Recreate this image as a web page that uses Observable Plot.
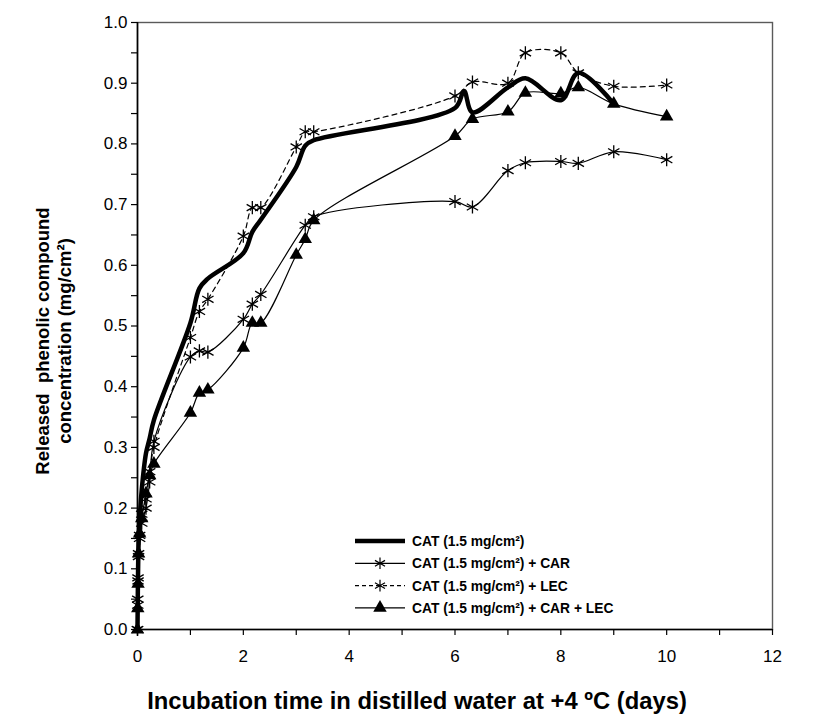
<!DOCTYPE html>
<html>
<head>
<meta charset="utf-8">
<script src="https://cdn.jsdelivr.net/npm/d3@7"></script>
<script src="https://cdn.jsdelivr.net/npm/@observablehq/plot@0.6"></script>
<style>
  html, body { margin: 0; padding: 0; background: #fff; }
  #wrap { position: relative; width: 831px; height: 726px; }
  #legend { position: absolute; left: 0; top: 0; pointer-events: none; }
</style>
</head>
<body>
<div id="wrap"></div>
<script>
// ---- data (days, released concentration mg/cm²) ----
const timeDays = [0, 0.005, 0.01, 0.02, 0.04, 0.08, 0.16, 0.23, 0.31, 1.0, 1.17, 1.33, 2.0, 2.17, 2.33, 3.0, 3.17, 3.33, 6.0, 6.17, 6.33, 7.0, 7.33, 8.0, 8.33, 9.0, 10.0];
const catValues = [0, 0.05, 0.09, 0.14, 0.18, 0.23, 0.29, 0.315, 0.345, 0.505, 0.562, 0.578, 0.62, 0.655, 0.675, 0.762, 0.797, 0.806, 0.859, 0.887, 0.852, 0.893, 0.908, 0.872, 0.917, 0.866, null];
const catCarValues = [0, 0.05, 0.085, 0.125, 0.155, 0.175, 0.2, 0.243, 0.31, 0.449, 0.459, 0.457, 0.511, 0.536, 0.552, null, 0.666, 0.68, 0.705, null, 0.696, 0.756, 0.769, 0.771, 0.768, 0.787, 0.774];
const catLecValues = [0, 0.04, 0.08, 0.12, 0.15, 0.19, 0.215, 0.26, 0.30, 0.481, 0.524, 0.544, 0.648, 0.695, 0.695, 0.795, 0.82, 0.82, 0.879, null, 0.902, 0.900, 0.950, 0.950, 0.917, 0.895, 0.897];
const catCarLecValues = [0, 0.035, 0.075, 0.125, 0.158, 0.183, 0.224, 0.254, 0.273, 0.357, 0.39, 0.395, 0.464, 0.505, 0.505, 0.617, 0.643, 0.674, 0.813, null, 0.841, 0.853, 0.884, 0.883, 0.893, 0.866, 0.845];

const seriesNames = ["CAT (1.5 mg/cm²)", "CAT (1.5 mg/cm²) + CAR", "CAT (1.5 mg/cm²) + LEC", "CAT (1.5 mg/cm²) + CAR + LEC"];
const xTickLabels = [0, 2, 4, 6, 8, 10, 12];
const xMinorTicks = [0, 1, 2, 3, 4, 5, 6, 7, 8, 9, 10, 11, 12];
const yTickLabels = [0, 0.1, 0.2, 0.3, 0.4, 0.5, 0.6, 0.7, 0.8, 0.9, 1.0];
const yMinorTicks = [0, 0.05, 0.1, 0.15, 0.2, 0.25, 0.3, 0.35, 0.4, 0.45, 0.5, 0.55, 0.6, 0.65, 0.7, 0.75, 0.8, 0.85, 0.9, 0.95, 1.0];
const xTitle = "Incubation time in distilled water at +4 ºC (days)";
const yTitle = "Released  phenolic compound\nconcentration (mg/cm²)";

function rows(values) {
  return timeDays.map((t, i) => ({t, v: values[i]})).filter(d => d.v != null);
}
const cat = rows(catValues);
const catCar = rows(catCarValues);
const catLec = rows(catLecValues);
const catCarLec = rows(catCarLecValues);

const W = 831, H = 726;
const mL = 137, mR = 59, mT = 22, mB = 97;
const sans = "'Liberation Sans', Arial, sans-serif";

const chart = Plot.plot({
  width: W, height: H,
  marginLeft: mL, marginRight: mR, marginTop: mT, marginBottom: mB,
  x: {domain: [0, 12]},
  y: {domain: [0, 1]},
  style: {fontFamily: sans, fontSize: "17px", color: "#000", background: "#fff", overflow: "visible"},
  marks: [
    Plot.frame({stroke: "#5a5a5a", strokeWidth: 1.4}),
    Plot.ruleX([0], {stroke: "#000", strokeWidth: 1.6}),
    Plot.ruleY([0], {stroke: "#000", strokeWidth: 1.6}),
    Plot.axisX(xMinorTicks, {tickSize: 6, tickFormat: () => "", label: null, stroke: "#000", strokeWidth: 1.2}),
    Plot.axisX(xTickLabels, {tickSize: 0, tickPadding: 20, tickFormat: d => String(d), label: null, fontSize: 17}),
    Plot.axisY(yMinorTicks, {tickSize: 6, tickFormat: () => "", label: null, stroke: "#000", strokeWidth: 1.2}),
    Plot.axisY(yTickLabels, {tickSize: 0, tickPadding: 10, tickFormat: d3.format(".1f"), label: null, fontSize: 17}),
    Plot.text([xTitle], {frameAnchor: "bottom", dx: -38, dy: 72, fontSize: 23.8, fontWeight: "bold", textAnchor: "middle", lineAnchor: "middle"}),
    Plot.text([yTitle], {frameAnchor: "left", dx: -85, dy: 15, rotate: -90, fontSize: 18.5, fontWeight: "bold", textAnchor: "middle", lineAnchor: "middle", lineHeight: 1.2}),
    // series
    Plot.line(catCar, {x: "t", y: "v", curve: "catmull-rom", stroke: "#000", strokeWidth: 1.2}),
    Plot.line(catLec, {x: "t", y: "v", curve: "catmull-rom", stroke: "#000", strokeWidth: 1.2, strokeDasharray: "5,4"}),
    Plot.line(catCarLec, {x: "t", y: "v", curve: "catmull-rom", stroke: "#000", strokeWidth: 1.2}),
    Plot.dot(catCar, {x: "t", y: "v", symbol: "asterisk", r: 6.2, stroke: "#000", strokeWidth: 1.3}),
    Plot.dot(catLec, {x: "t", y: "v", symbol: "asterisk", r: 6.2, stroke: "#000", strokeWidth: 1.3}),
    Plot.dot(catCarLec, {x: "t", y: "v", symbol: "triangle", r: 5, fill: "#000", stroke: "none"}),
    Plot.line(cat, {x: "t", y: "v", curve: "catmull-rom", stroke: "#000", strokeWidth: 4.5})
  ]
});
document.getElementById("wrap").appendChild(chart);

// ---- legend overlay (inside plot area, lower right) ----
const legendStyles = [
  {dash: null, width: 4.5, symbol: null},
  {dash: null, width: 1.2, symbol: d3.symbolAsterisk},
  {dash: "4,3", width: 1.2, symbol: d3.symbolAsterisk},
  {dash: null, width: 1.2, symbol: d3.symbolTriangle}
];
const lg = d3.select("#wrap").append("svg").attr("id", "legend").attr("width", W).attr("height", H);
const lx0 = 355, lx1 = 405, ltx = 412, ly0 = 541, ldy = 22.3;
seriesNames.forEach((name, i) => {
  const s = legendStyles[i];
  const y = ly0 + i * ldy;
  const g = lg.append("g");
  g.append("line").attr("x1", lx0).attr("x2", lx1).attr("y1", y).attr("y2", y)
    .attr("stroke", "#000").attr("stroke-width", s.width).attr("stroke-dasharray", s.dash);
  if (s.symbol) {
    const isTri = s.symbol === d3.symbolTriangle;
    g.append("path").attr("transform", `translate(${(lx0 + lx1) / 2},${y})`)
      .attr("d", d3.symbol(s.symbol, isTri ? Math.PI * 5 * 5 : Math.PI * 5.5 * 5.5)())
      .attr("fill", isTri ? "#000" : "none").attr("stroke", isTri ? "none" : "#000").attr("stroke-width", 1.2);
  }
  g.append("text").attr("x", ltx).attr("y", y).attr("dy", "0.36em")
    .attr("font-family", sans).attr("font-weight", "bold").attr("font-size", 13.8).text(name);
});
</script>
</body>
</html>
